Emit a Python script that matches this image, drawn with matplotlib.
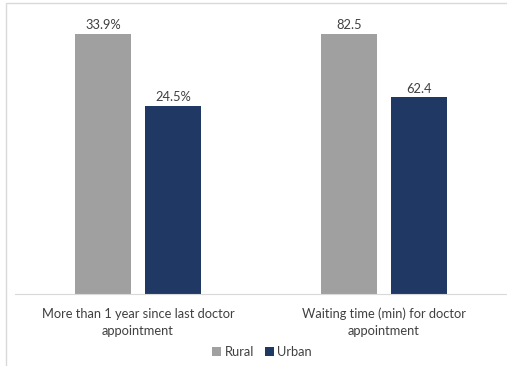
import numpy as np
import matplotlib.pyplot as plt
from matplotlib.patches import Rectangle

# data
categories = ['More than 1 year since last doctor\nappointment',
              'Waiting time (min) for doctor\nappointment']
rural = [33.9, 82.5]
urban = [24.5, 62.4]
rural_labels = ['33.9%', '82.5']
urban_labels = ['24.5%', '62.4']

plt.rcParams['font.family'] = ['Lato', 'DejaVu Sans']

fig = plt.figure(figsize=(5.07, 3.66), dpi=100)
W, H = 507, 366
ax = fig.add_axes([15 / W, 1 - 294 / H, 492 / W, 279 / H])

# each group is scaled to its own maximum (different units)
group_max = np.maximum(rural, urban)
rural_h = np.array(rural) / group_max
urban_h = np.array(urban) / group_max

x = np.arange(len(categories))
bw = 0.228
gap = 0.057
off = (bw + gap) / 2
b1 = ax.bar(x - off, rural_h, bw, color='#a0a0a0', label='Rural')
b2 = ax.bar(x + off, urban_h, bw, color='#203864', label='Urban')

for bars, labs in [(b1, rural_labels), (b2, urban_labels)]:
    for b, t in zip(bars, labs):
        ax.text(b.get_x() + b.get_width() / 2, b.get_height() + 0.01, t,
                ha='center', va='bottom', fontsize=9.3, color='#404040')

ax.set_xlim(-0.5, 1.5)
ax.set_ylim(0, 1.073)
ax.set_xticks(x)
ax.set_xticklabels(categories, fontsize=9.3, color='#404040', linespacing=1.5)
ax.tick_params(axis='x', length=0, pad=10)
ax.set_yticks([])
for s in ['top', 'right', 'left']:
    ax.spines[s].set_visible(False)
ax.spines['bottom'].set_color('#d9d9d9')

fig.legend(handles=[b1, b2], loc='center', bbox_to_anchor=(262 / W, 1 - 352 / H),
           ncol=2, frameon=False, fontsize=9.3, handlelength=0.7, handleheight=0.7,
           handletextpad=0.3, columnspacing=0.8, labelcolor='#404040')

# chart border
fig.patches.append(Rectangle((6 / W, -0.1), 1.2, 1.1 - 3 / H, transform=fig.transFigure,
                             fill=False, edgecolor='#d9d9d9', lw=1))

fig.savefig('out.png', dpi=100)
